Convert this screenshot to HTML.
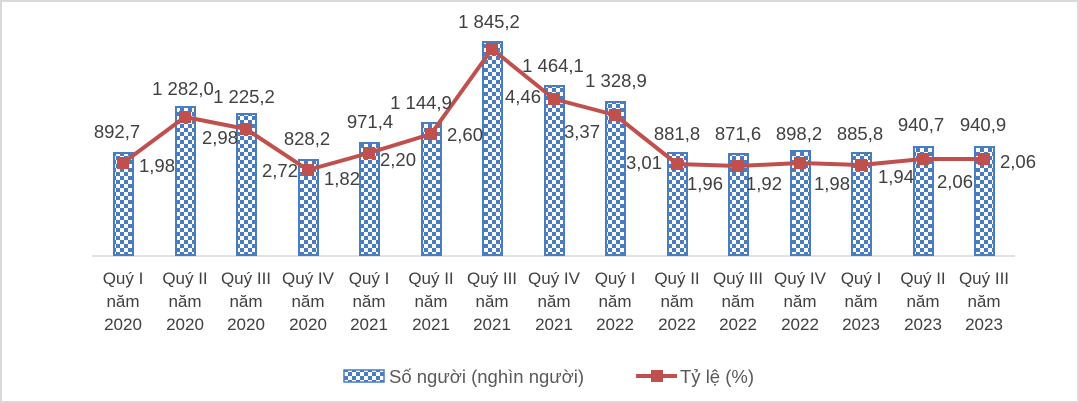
<!DOCTYPE html>
<html><head><meta charset="utf-8">
<style>
html,body{margin:0;padding:0;background:#fff}
svg{display:block}
text{font-family:"Liberation Sans",Arial,sans-serif;fill:#404040}
</style></head>
<body>
<svg width="1079" height="403" viewBox="0 0 1079 403" xmlns="http://www.w3.org/2000/svg">
<defs>
<pattern id="chk" width="8" height="8" patternUnits="userSpaceOnUse">
<rect width="8" height="8" fill="#fff"/>
<rect width="4" height="4" fill="#4a7cc1"/>
<rect x="4" y="4" width="4" height="4" fill="#4a7cc1"/>
</pattern>
</defs>
<rect x="1" y="1" width="1077" height="401" fill="#fff" stroke="#d9d9d9" stroke-width="2"/>
<line x1="92" y1="256" x2="1015" y2="256" stroke="#d9d9d9" stroke-width="1.5"/>
<g stroke="#4a7cc1" stroke-width="2" fill="url(#chk)">
<rect x="114" y="153" width="19" height="102"/>
<rect x="176" y="107" width="19" height="148"/>
<rect x="237" y="114" width="19" height="141"/>
<rect x="299" y="160" width="19" height="95"/>
<rect x="360" y="143" width="19" height="112"/>
<rect x="422" y="123" width="19" height="132"/>
<rect x="483" y="42" width="19" height="213"/>
<rect x="545" y="86" width="19" height="169"/>
<rect x="606" y="102" width="19" height="153"/>
<rect x="668" y="153" width="19" height="102"/>
<rect x="729" y="154" width="19" height="101"/>
<rect x="791" y="151" width="19" height="104"/>
<rect x="852" y="153" width="19" height="102"/>
<rect x="914" y="147" width="19" height="108"/>
<rect x="975" y="147" width="19" height="108"/>
</g>
<polyline fill="none" stroke="#c0504d" stroke-width="4" stroke-linejoin="round"
points="123,163 185,117 246,129 308,170 369,153 431,134 492,49 554,99 615,115 677,164 738,166 800,163 861,165 923,159 984,159"/>
<g fill="#c0504d">
<rect x="117" y="157" width="12" height="12"/>
<rect x="179" y="111" width="12" height="12"/>
<rect x="240" y="123" width="12" height="12"/>
<rect x="302" y="164" width="12" height="12"/>
<rect x="363" y="147" width="12" height="12"/>
<rect x="425" y="128" width="12" height="12"/>
<rect x="486" y="43" width="12" height="12"/>
<rect x="548" y="93" width="12" height="12"/>
<rect x="609" y="109" width="12" height="12"/>
<rect x="671" y="158" width="12" height="12"/>
<rect x="732" y="160" width="12" height="12"/>
<rect x="794" y="157" width="12" height="12"/>
<rect x="855" y="159" width="12" height="12"/>
<rect x="917" y="153" width="12" height="12"/>
<rect x="978" y="153" width="12" height="12"/>
</g>
<g font-size="18.5" text-anchor="middle">
<text x="117" y="138">892,7</text>
<text x="183" y="95">1 282,0</text>
<text x="244" y="103">1 225,2</text>
<text x="307" y="145">828,2</text>
<text x="370" y="128">971,4</text>
<text x="421" y="109">1 144,9</text>
<text x="489" y="28">1 845,2</text>
<text x="553" y="72">1 464,1</text>
<text x="616" y="87">1 328,9</text>
<text x="677" y="140">881,8</text>
<text x="738" y="140">871,6</text>
<text x="799" y="140">898,2</text>
<text x="860" y="140">885,8</text>
<text x="921" y="131">940,7</text>
<text x="983" y="131">940,9</text>
</g>
<g font-size="18.5" text-anchor="middle">
<text x="157" y="172">1,98</text>
<text x="220" y="144">2,98</text>
<text x="280" y="177">2,72</text>
<text x="342" y="185">1,82</text>
<text x="398" y="166">2,20</text>
<text x="465" y="141">2,60</text>
<text x="523" y="103">4,46</text>
<text x="582" y="138">3,37</text>
<text x="644" y="169">3,01</text>
<text x="705" y="190">1,96</text>
<text x="764" y="190">1,92</text>
<text x="832" y="190">1,98</text>
<text x="896" y="183">1,94</text>
<text x="955" y="188">2,06</text>
<text x="1018" y="168">2,06</text>
</g>
<g font-size="17" text-anchor="middle" style="fill:#595959">
<text x="123" y="284">Quý I</text><text x="123" y="307">năm</text><text x="123" y="330">2020</text>
<text x="185" y="284">Quý II</text><text x="185" y="307">năm</text><text x="185" y="330">2020</text>
<text x="246" y="284">Quý III</text><text x="246" y="307">năm</text><text x="246" y="330">2020</text>
<text x="308" y="284">Quý IV</text><text x="308" y="307">năm</text><text x="308" y="330">2020</text>
<text x="369" y="284">Quý I</text><text x="369" y="307">năm</text><text x="369" y="330">2021</text>
<text x="431" y="284">Quý II</text><text x="431" y="307">năm</text><text x="431" y="330">2021</text>
<text x="492" y="284">Quý III</text><text x="492" y="307">năm</text><text x="492" y="330">2021</text>
<text x="554" y="284">Quý IV</text><text x="554" y="307">năm</text><text x="554" y="330">2021</text>
<text x="615" y="284">Quý I</text><text x="615" y="307">năm</text><text x="615" y="330">2022</text>
<text x="677" y="284">Quý II</text><text x="677" y="307">năm</text><text x="677" y="330">2022</text>
<text x="738" y="284">Quý III</text><text x="738" y="307">năm</text><text x="738" y="330">2022</text>
<text x="800" y="284">Quý IV</text><text x="800" y="307">năm</text><text x="800" y="330">2022</text>
<text x="861" y="284">Quý I</text><text x="861" y="307">năm</text><text x="861" y="330">2023</text>
<text x="923" y="284">Quý II</text><text x="923" y="307">năm</text><text x="923" y="330">2023</text>
<text x="984" y="284">Quý III</text><text x="984" y="307">năm</text><text x="984" y="330">2023</text>
</g>
<rect x="344" y="370" width="40" height="12" fill="url(#chk)" stroke="#4a7cc1" stroke-width="1.5"/>
<text x="389" y="383" font-size="18.5" style="fill:#595959">Số người (nghìn người)</text>
<line x1="636" y1="376" x2="677" y2="376" stroke="#c0504d" stroke-width="4"/>
<rect x="651" y="370" width="12" height="12" fill="#c0504d"/>
<text x="680" y="383" font-size="18.5" style="fill:#595959">Tỷ lệ (%)</text>
</svg>
</body></html>
